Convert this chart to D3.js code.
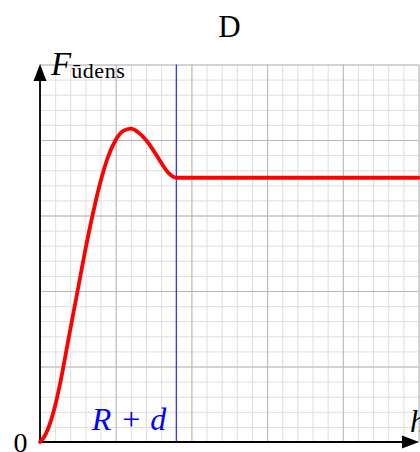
<!DOCTYPE html>
<html>
<head>
<meta charset="utf-8">
<script src="https://cdn.jsdelivr.net/npm/d3@7"></script>
<style>
  html, body { margin: 0; padding: 0; background: #fff; }
  svg { display: block; }
  text { font-family: "Liberation Serif", "DejaVu Serif", serif; }
</style>
</head>
<body>
<svg id="chart" width="420" height="452"></svg>
<script>
// Force curve: h on the horizontal axis, F on the vertical axis
const curveH = [0, 0.05, 0.1, 0.15, 0.2, 0.25, 0.3, 0.35, 0.4, 0.5, 0.6, 0.7, 0.8, 0.9, 1.0, 1.1, 1.2, 1.3, 1.4, 1.5, 1.6, 1.7, 1.8, 5];
const curveF = [0, 0.06, 0.16, 0.3, 0.48, 0.7, 0.95, 1.22, 1.49, 2.02, 2.55, 3.03, 3.45, 3.78, 4.0, 4.12, 4.15, 4.1, 4.0, 3.86, 3.7, 3.56, 3.5, 3.5];
// Position of the marked distance R + d
const markerH = [1.8];
const markerLabel = ["R + d"];
// Axis extents and grid spacing (in axis units)
const domainH = [0, 5];
const domainF = [0, 5];
const minorStep = 0.2;
const majorStep = 1;
const titleText = ["D"];

const svg = d3.select("#chart");
const x = d3.scaleLinear().domain(domainH).range([40, 418.5]);
const y = d3.scaleLinear().domain(domainF).range([442, 64.5]);

const minorTicks = d3.range(domainH[0], domainH[1] + 1e-9, minorStep);
const majorTicks = d3.range(domainH[0], domainH[1] + 1e-9, majorStep);
const gridH = y(domainF[0]) - y(domainF[1]);
const gridW = x(domainH[1]) - x(domainH[0]);

function styleGrid(g, color) {
  g.select(".domain").remove();
  g.selectAll(".tick line").attr("stroke", color).attr("stroke-width", 1);
  g.selectAll(".tick text").remove();
}

// minor grid
svg.append("g")
  .attr("transform", `translate(0,${y(domainF[0])})`)
  .call(d3.axisBottom(x).tickValues(minorTicks).tickSize(-gridH).tickFormat(""))
  .call(g => styleGrid(g, "#dedede"));
svg.append("g")
  .attr("transform", `translate(${x(domainH[0])},0)`)
  .call(d3.axisLeft(y).tickValues(minorTicks).tickSize(-gridW).tickFormat(""))
  .call(g => styleGrid(g, "#dedede"));
// major grid
svg.append("g")
  .attr("transform", `translate(0,${y(domainF[0])})`)
  .call(d3.axisBottom(x).tickValues(majorTicks).tickSize(-gridH).tickFormat(""))
  .call(g => styleGrid(g, "#b8b8b8"));
svg.append("g")
  .attr("transform", `translate(${x(domainH[0])},0)`)
  .call(d3.axisLeft(y).tickValues(majorTicks).tickSize(-gridW).tickFormat(""))
  .call(g => styleGrid(g, "#b8b8b8"));

// vertical marker line at R + d
svg.selectAll("line.marker").data(markerH).enter().append("line")
  .attr("class", "marker")
  .attr("x1", d => x(d)).attr("x2", d => x(d))
  .attr("y1", y(domainF[0])).attr("y2", y(domainF[1]))
  .attr("stroke", "#0000ff").attr("stroke-width", 1);

// axes with arrow heads
const x0 = x(0), y0 = y(0);
svg.append("line")
  .attr("x1", x0).attr("y1", y0).attr("x2", x(domainH[1]) - 6).attr("y2", y0)
  .attr("stroke", "#000").attr("stroke-width", 1.8);
svg.append("line")
  .attr("x1", x0).attr("y1", y0).attr("x2", x0).attr("y2", y(domainF[1]) + 6)
  .attr("stroke", "#000").attr("stroke-width", 1.8);
const tipX = x(domainH[1]) + 0.5, tipY = y(domainF[1]) - 0.5;
svg.append("path")
  .attr("d", `M${tipX},${y0} L${tipX - 17},${y0 - 6.5} L${tipX - 17},${y0 + 6.5} Z`)
  .attr("fill", "#000");
svg.append("path")
  .attr("d", `M${x0},${tipY} L${x0 - 6.5},${tipY + 17} L${x0 + 6.5},${tipY + 17} Z`)
  .attr("fill", "#000");

// force curve
const pts = curveH.map((h, i) => [h, curveF[i]]);
const line = d3.line().x(d => x(d[0])).y(d => y(d[1])).curve(d3.curveMonotoneX);
svg.append("path")
  .datum(pts)
  .attr("d", line)
  .attr("fill", "none")
  .attr("stroke", "#ff0000")
  .attr("stroke-width", 3.8)
  .attr("stroke-linecap", "round")
  .attr("stroke-linejoin", "round");

// labels
svg.append("text")
  .attr("x", 229.5).attr("y", 37)
  .attr("text-anchor", "middle")
  .attr("font-size", 31)
  .text(titleText[0]);

const fl = svg.append("text").attr("x", 51).attr("y", 75);
fl.append("tspan").attr("font-style", "italic").attr("font-size", 33).text("F");
fl.append("tspan").attr("font-size", 22).attr("dx", 0).attr("dy", 3)
  .attr("letter-spacing", 0.6).text("ūdens");

svg.append("text")
  .attr("x", 20.5).attr("y", 452)
  .attr("text-anchor", "middle")
  .attr("font-size", 28)
  .text("0");

const rl = svg.append("text")
  .attr("x", x(markerH[0]) - 10).attr("y", 430)
  .attr("text-anchor", "end")
  .attr("fill", "#0000ff")
  .attr("font-size", 32);
const parts = markerLabel[0].split(" ");
rl.append("tspan").attr("font-style", "italic").text(parts[0]);
rl.append("tspan").attr("dx", 11).text(parts[1]);
rl.append("tspan").attr("dx", 10).attr("font-style", "italic").text(parts[2]);

svg.append("text")
  .attr("x", 410).attr("y", 432)
  .attr("font-style", "italic")
  .attr("font-size", 31)
  .text("h");
</script>
</body>
</html>
